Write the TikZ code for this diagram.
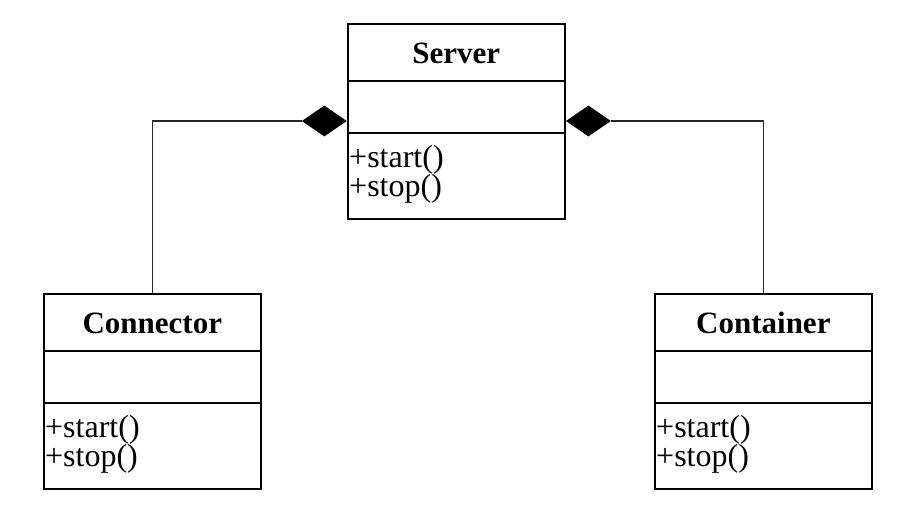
\documentclass[tikz,border=0pt]{standalone}
\usepackage{fontspec}
\setmainfont{Liberation Serif}
\usetikzlibrary{shapes.geometric}
\begin{document}
\begin{tikzpicture}[x=1pt,y=-1pt,
  classbox/.style={draw, line width=1.7pt, minimum width=217pt, minimum height=195pt, inner sep=0pt, anchor=north west},
  sepline/.style={line width=1.5pt},
  classtitle/.style={font=\fontsize{31}{31}\selectfont\bfseries, anchor=base, inner sep=0pt},
  meth/.style={font=\fontsize{32}{32}\selectfont, anchor=base west, inner sep=0pt},
  link/.style={line width=1.2pt, draw=black!85},
  comp/.style={diamond, fill=black, minimum width=45pt, minimum height=31pt, inner sep=0pt}]
\useasboundingbox[fill=white] (0,0) rectangle (910,528);

% Classes
\node[classbox] (server) at (347,23) {};
\node[classbox] (conn) at (43,293) {};
\node[classbox] (cont) at (654,293) {};

\foreach \b/\t in {server/Server, conn/Connector, cont/Container}{
  \draw[sepline] ([yshift=-58pt]\b.north west) -- ([yshift=-58pt]\b.north east);
  \draw[sepline] ([yshift=-110pt]\b.north west) -- ([yshift=-110pt]\b.north east);
  \node[classtitle] (\b-title) at ([yshift=-40pt]\b.north) {\t};
  \node[meth] (\b-start) at ([xshift=2pt,yshift=-144pt]\b.north west) {+start()};
  \node[meth] (\b-stop) at ([xshift=2pt,yshift=-173pt]\b.north west) {+stop()};
}

% Composition diamonds
\node[comp, anchor=east] (dl) at ([yshift=-98pt]server.north west) {};
\node[comp, anchor=west] (dr) at ([yshift=-98pt]server.north east) {};

% Connectors
\draw[link] (dl.west) -| (conn.north);
\draw[link] (dr.east) -| (cont.north);
\end{tikzpicture}
\end{document}
